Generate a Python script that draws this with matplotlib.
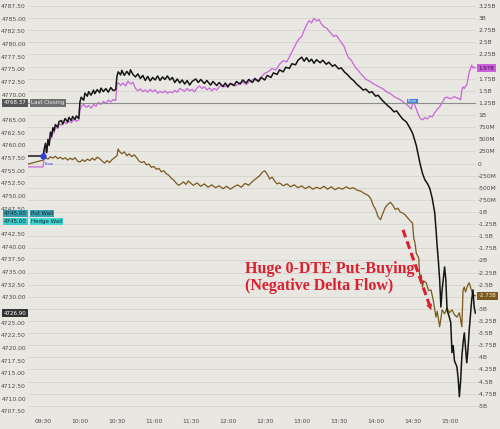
import matplotlib
matplotlib.use("Agg")
import matplotlib.pyplot as plt
import matplotlib.transforms as mtransforms

# minutes after 09:30 (negative = pre-open flat line)
es_min = [-12, 0, 1, 2, 3, 4, 5, 6, 7, 8, 9, 10, 12, 13, 15, 16, 18, 20, 21, 23, 24, 26, 27, 29,
          30, 31, 33, 34, 36, 37, 39, 41, 42, 44, 46, 47, 49, 51, 53, 55, 57, 59,
          60, 61, 63, 64, 66, 68, 70, 71, 73, 75, 77, 79, 81, 83, 85, 87, 89, 91, 93, 95, 97, 99,
          101, 103, 105, 107, 109, 111, 113, 115, 117, 119, 121, 124, 126, 128, 131, 133, 136, 138,
          141, 143, 146, 148, 150, 152, 155, 157, 160, 162, 165, 167, 170, 172, 175, 177, 180, 182,
          185, 187, 190, 192, 195, 197, 200, 202, 205, 207, 210, 212, 214, 216, 218, 220, 222, 225,
          227, 230, 232, 235, 237, 240, 242, 245, 247, 250, 252, 255, 257, 260, 262, 265, 267, 270,
          272, 275, 277, 280, 282, 285, 287, 290, 292, 295, 297, 300, 303, 306, 308, 310, 312, 314,
          316, 318, 319, 320, 321, 322, 323, 324, 326, 327, 328, 330, 331, 332, 333, 334, 336, 337,
          338, 339, 340, 341, 342, 343, 344, 345, 346, 347, 348, 349, 350, 351]
es_price = [4757.9, 4757.9, 4759.3, 4760.4, 4758.6, 4761.2, 4760.0, 4762.6, 4761.8, 4763.5, 4762.9,
            4764.1, 4763.6, 4764.7, 4764.9, 4764.2, 4765.3, 4764.6, 4765.5, 4764.9, 4765.7, 4765.1,
            4765.8, 4765.3,
            4768.6, 4769.5, 4768.9, 4770.3, 4769.7, 4770.6, 4769.9, 4770.9, 4770.2, 4771.0, 4770.4,
            4771.3, 4770.6, 4771.2, 4770.5, 4771.4, 4770.8, 4771.0,
            4773.6, 4774.5, 4773.9, 4774.8, 4773.8, 4774.6, 4773.9, 4774.9, 4774.0, 4773.5, 4774.1,
            4773.2, 4773.8, 4772.8, 4773.6, 4772.7, 4773.4, 4772.9, 4773.7, 4772.8, 4773.5, 4773.0,
            4773.7, 4772.9, 4773.4, 4772.4, 4773.1, 4772.3, 4772.9, 4772.1, 4772.8, 4771.9, 4772.6,
            4773.1, 4772.4, 4773.0, 4772.2, 4772.8, 4771.9, 4772.6,
            4771.8, 4772.4, 4771.6, 4772.3, 4771.5, 4772.2, 4771.8, 4772.6, 4772.1, 4772.9, 4772.3,
            4773.0, 4772.4, 4773.2, 4772.6, 4773.4, 4772.9, 4773.8,
            4773.4, 4774.3, 4774.0, 4774.9, 4774.5, 4775.4, 4775.2, 4776.1, 4775.9, 4776.8, 4777.4,
            4776.6, 4777.3, 4776.5, 4777.0, 4776.2, 4776.9, 4776.3,
            4776.8, 4776.0, 4776.4, 4775.6, 4775.9, 4775.1, 4775.3, 4774.4, 4774.0, 4773.2, 4772.8,
            4772.0, 4771.6, 4770.9, 4771.1, 4770.4, 4770.6, 4769.7,
            4769.9, 4769.0, 4768.5, 4767.8, 4767.4, 4766.6, 4766.8, 4765.8, 4765.2, 4764.6, 4763.8,
            4762.4, 4760.0, 4756.5, 4754.5, 4753.2, 4752.5, 4751.5,
            4749.5, 4746.7, 4743.5, 4740.0, 4737.0, 4733.5, 4728.1, 4731.5, 4736.0, 4733.5, 4727.5,
            4726.0, 4725.0, 4719.1, 4720.5, 4717.5, 4716.3, 4714.0,
            4710.4, 4713.5, 4718.3, 4721.0, 4723.0, 4720.0, 4717.1, 4719.8, 4723.6, 4726.5, 4729.5,
            4731.5, 4728.1, 4726.9]

flow_min = [-12, 0, 1, 2, 3, 4, 5, 6, 7, 8, 9, 10, 12, 13, 15, 17, 19, 21, 23, 25, 27, 29,
            30, 31, 33, 35, 37, 39, 41, 43, 45, 47, 49, 51, 53, 55, 57, 59,
            60, 61, 63, 65, 67, 69, 71, 73, 75, 77, 79, 81, 83, 85, 87, 89, 91, 93, 95, 97, 99,
            101, 103, 105, 107, 109, 111, 113, 115, 117, 119, 121, 123, 125, 127, 129, 131, 133,
            135, 137, 139, 141, 143, 145, 147, 150, 153, 156, 159, 162, 165, 168, 171, 174, 177,
            180, 183, 186, 189, 192, 195, 198, 201, 204, 206, 208, 210, 212, 214, 216, 218, 220,
            222, 224, 226, 228, 230, 232, 234, 236, 238, 240, 242, 244, 246, 248, 250, 252, 254,
            256, 258, 260, 262, 265, 268, 270, 273, 276, 279, 282, 285, 288, 291, 294, 297, 299,
            300, 302, 304, 306, 308, 310, 312, 314, 316, 318, 320, 322, 324, 326, 328, 330, 332,
            334, 336, 338, 339, 340, 341, 342, 343, 344, 345, 346, 347, 348, 349, 350, 351]
flow_val = [-0.07, -0.07, 0.14, 0.28, 0.22, 0.45, 0.40, 0.58, 0.52, 0.68, 0.63, 0.76, 0.72, 0.82,
            0.79, 0.86, 0.82, 0.88, 0.84, 0.91, 0.87, 0.90,
            1.10, 1.18, 1.22, 1.16, 1.20, 1.14, 1.22, 1.18, 1.26, 1.22, 1.28, 1.24, 1.31, 1.27,
            1.32, 1.30,
            1.62, 1.67, 1.61, 1.66, 1.60, 1.70, 1.64, 1.68, 1.55, 1.50, 1.54, 1.48, 1.52, 1.47,
            1.53, 1.48, 1.52, 1.45, 1.49, 1.46, 1.50,
            1.45, 1.48, 1.46, 1.51, 1.47, 1.55, 1.52, 1.49, 1.55, 1.50, 1.53, 1.48, 1.56, 1.60,
            1.55, 1.58, 1.52,
            1.56, 1.50, 1.55, 1.52, 1.58, 1.62, 1.58, 1.62, 1.66, 1.60, 1.64, 1.68, 1.63, 1.70,
            1.74, 1.70, 1.78,
            1.86, 1.90, 1.96, 1.93, 2.05, 2.12, 2.10, 2.25, 2.40, 2.50, 2.58, 2.62, 2.75, 2.86,
            2.95, 2.90, 3.00,
            2.94, 2.97, 2.88, 2.82, 2.80, 2.74, 2.68, 2.62, 2.65, 2.58, 2.50, 2.44, 2.30, 2.18,
            2.14, 2.05, 1.97,
            1.92, 1.85, 1.80, 1.74, 1.70, 1.65, 1.62, 1.58, 1.54, 1.48, 1.44, 1.38, 1.34, 1.30,
            1.24, 1.18, 1.12,
            1.26, 1.20, 1.05, 0.94, 0.90, 0.95, 0.92, 0.98, 0.96, 1.05, 1.12, 1.17, 1.25, 1.35,
            1.37, 1.34, 1.35,
            1.38, 1.35, 1.34, 1.31, 1.52, 1.58, 1.55, 1.60, 1.62, 1.75, 1.89, 1.95, 2.03, 1.97,
            1.99, 1.97]

delta_min = [-12, 0, 2, 4, 6, 8, 10, 12, 14, 16, 18, 20, 22, 24, 26, 28, 30, 32, 34, 36, 38, 40,
             42, 44, 46, 48, 50, 52, 54, 56, 58, 60, 61, 62, 64, 66, 68, 70, 72, 74, 76, 78, 80,
             82, 84, 86, 88, 90, 92, 94, 96, 98, 100, 102, 104, 106, 108, 110, 112, 114, 116, 118,
             120, 122, 125, 128, 131, 134, 137, 140, 143, 146, 149, 152, 155, 158, 161, 164, 167,
             170, 173, 176, 178, 180, 182, 184, 186, 188, 190, 192, 195, 198, 201, 204, 207, 210,
             213, 216, 219, 222, 225, 228, 231, 234, 237, 240, 243, 246, 249, 252, 255, 258, 261,
             264, 266, 268, 270, 272, 274, 276, 278, 280, 282, 284, 286, 288, 290, 292, 294, 296,
             298, 300, 301, 302, 303, 305, 306, 307, 308, 309, 311, 313, 315, 317, 319, 320, 322,
             323, 324, 326, 328, 330, 332, 334, 336, 338, 340, 341, 342, 343, 344, 345, 346, 347,
             348, 349, 351]
delta_val = [-0.01, 0.07, 0.12, 0.09, 0.14, 0.11, 0.15, 0.10, 0.13, 0.09, 0.12, 0.07, 0.11, 0.08,
             0.12, 0.05, 0.03, 0.08, 0.04, 0.09, 0.06, 0.11, 0.07, 0.13, 0.10, 0.05, 0.01, 0.06,
             0.02, 0.08, 0.12, 0.16, 0.30, 0.25, 0.20, 0.24, 0.16, 0.20, 0.14, 0.18, 0.12, 0.05,
             0.02, 0.04, -0.03, -0.01, -0.08, -0.06, -0.12, -0.10, -0.17, -0.15, -0.21, -0.24,
             -0.30, -0.34, -0.40, -0.45, -0.42, -0.38, -0.43, -0.36,
             -0.41, -0.45, -0.40, -0.47, -0.42, -0.49, -0.44, -0.50, -0.46, -0.52, -0.47, -0.53,
             -0.48, -0.44, -0.49, -0.41, -0.45,
             -0.37, -0.31, -0.25, -0.18, -0.15, -0.22, -0.32, -0.28, -0.36, -0.42, -0.40, -0.46,
             -0.42, -0.48, -0.44, -0.50, -0.46,
             -0.52, -0.47, -0.53, -0.49, -0.52, -0.47, -0.53, -0.48, -0.54, -0.50, -0.53, -0.48,
             -0.52, -0.50, -0.55, -0.57, -0.62,
             -0.66, -0.72, -0.86, -0.95, -1.10, -1.16, -1.02, -0.90, -0.84, -0.80, -0.86, -0.95,
             -0.92, -1.00, -1.02, -1.06, -1.12,
             -1.18, -1.23, -1.55, -1.64, -1.85, -1.95, -2.40, -2.30, -2.55, -2.42, -2.46, -2.62,
             -2.61, -2.85, -3.17, -3.05, -3.37,
             -3.20, -3.02, -3.10, -2.98, -3.08, -3.02, -3.12, -3.17, -3.08, -3.37, -2.61, -2.55,
             -2.65, -2.57, -2.50, -2.46, -2.55,
             -2.63, -2.71, -2.73]

last_close = 4768.37
put_wall = 4745.00
hedge_wall = 4745.00

time_ticks = [0, 30, 60, 90, 120, 150, 180, 210, 240, 270, 300, 330]
time_labels = ["09:30", "10:00", "10:30", "11:00", "11:30", "12:00",
               "12:30", "13:00", "13:30", "14:00", "14:30", "15:00"]

bg = "#e9e7e2"
tick_col = "#4a4a4a"


def fmt_bn(v):
    if abs(v) < 1e-9:
        return "0"
    if abs(v) >= 1:
        return f"{v:g}B"
    return f"{v * 1000:g}M"


fig = plt.figure(figsize=(5, 4.29), dpi=100, facecolor=bg)
ax = fig.add_axes([0.056, 0.033, 0.896, 0.967])
ax2 = ax.twinx()
ax.set_zorder(ax2.get_zorder() + 1)
ax.patch.set_visible(False)
ax2.patch.set_visible(True)
ax2.patch.set_facecolor(bg)

ax.set_xlim(-12.2, 351.5)
ax.set_ylim(4706.83, 4788.68)
ax2.set_ylim(-5.186, 3.374)

# labels hidden behind the value boxes
left_boxed = [last_close, hedge_wall, es_price[-1]]
right_boxed = [flow_val[-1], delta_val[-1]]

rticks = [x * 0.25 for x in range(-20, 14)]
ax2.set_yticks(rticks)
ax2.set_yticklabels(["" if any(abs(v - b) < 0.13 for b in right_boxed) else fmt_bn(v)
                     for v in rticks])
ax2.grid(True, color="#d7d4ce", lw=0.6)
ax.set_xticks(time_ticks)
ax.set_xticklabels(time_labels)
ax2.set_xticks(time_ticks)

lticks = [4707.5 + 2.5 * i for i in range(33)]
ax.set_yticks(lticks)
ax.set_yticklabels(["" if any(abs(v - b) < 1.0 for b in left_boxed) else f"{v:.2f}"
                    for v in lticks])

for a in (ax, ax2):
    for s in a.spines.values():
        s.set_visible(False)
    a.tick_params(length=0, labelsize=4.3, colors=tick_col, pad=1.5)
ax.tick_params(axis="x", pad=3)

ax.axhline(last_close, color="#8c8c8c", lw=0.8, zorder=1)

ax2.plot(delta_min, delta_val, color="#7a5a1c", lw=0.9)
ax2.plot(flow_min, flow_val, color="#c865dc", lw=0.9)
ax.plot(es_min, es_price, color="#151515", lw=1.1)

# flow event markers
ax.plot([0], [es_price[1]], "o", color="#2f3fd8", ms=3.5, zorder=5)
ax.text(1, es_price[1] - 1.6, "Flow", fontsize=2.8, color="#2f3fd8", va="center", zorder=5)
ax2.text(300, 1.28, "Flow", fontsize=2.8, color="white", ha="center", va="center", zorder=5,
         bbox=dict(boxstyle="square,pad=0.2", fc="#3f7fe0", ec="none"))

# value boxes on the left
lt = mtransforms.blended_transform_factory(fig.transFigure, ax.transData)
box_kw = dict(fontsize=4.0, va="center", zorder=10, clip_on=False)
ax.text(0.053, last_close, f"{last_close:.2f}", transform=lt, ha="right", color="white",
        bbox=dict(boxstyle="square,pad=0.25", fc="#555555", ec="none"), **box_kw)
ax.text(0.062, last_close, "Last Closing", transform=lt, ha="left", color="#eeeeee",
        bbox=dict(boxstyle="square,pad=0.25", fc="#707070", ec="none"), **box_kw)
lt_up = mtransforms.offset_copy(lt, fig=fig, y=7.5, units="dots")
ax.text(0.053, put_wall, f"{put_wall:.2f}", transform=lt_up, ha="right", color="#0d2a30",
        bbox=dict(boxstyle="square,pad=0.2", fc="#3a9fb3", ec="none"), **box_kw)
ax.text(0.062, put_wall, "Put Wall", transform=lt_up, ha="left", color="#0d2a30",
        bbox=dict(boxstyle="square,pad=0.2", fc="#3a9fb3", ec="none"), **box_kw)
ax.text(0.053, hedge_wall, f"{hedge_wall:.2f}", transform=lt, ha="right", color="#0d2a30",
        bbox=dict(boxstyle="square,pad=0.2", fc="#3dcaca", ec="none"), **box_kw)
ax.text(0.062, hedge_wall, "Hedge Wall", transform=lt, ha="left", color="#0d2a30",
        bbox=dict(boxstyle="square,pad=0.2", fc="#44d6d0", ec="none"), **box_kw)
ax.text(0.053, es_price[-1], f"{es_price[-1]:.2f}", transform=lt, ha="right", color="white",
        bbox=dict(boxstyle="square,pad=0.25", fc="#333333", ec="none"), **box_kw)

# value boxes on the right
rt = mtransforms.blended_transform_factory(fig.transFigure, ax2.transData)
ax.text(0.957, flow_val[-1], fmt_bn(flow_val[-1]), transform=rt, ha="left", color="#3a0e45",
        bbox=dict(boxstyle="square,pad=0.25", fc="#cc5fdc", ec="none"), **box_kw)
ax.text(0.957, delta_val[-1], fmt_bn(delta_val[-1]), transform=rt, ha="left", color="#f3e6c8",
        bbox=dict(boxstyle="square,pad=0.25", fc="#7a5a1c", ec="none"), **box_kw)

# annotation
red = "#de1f2e"
ax.text(0.484, 0.331, "Huge 0-DTE Put-Buying\n(Negative Delta Flow)", transform=ax.transAxes,
        family="Liberation Serif", weight="bold", fontsize=11.5, color=red,
        va="center", ha="left", linespacing=1.05, zorder=10)
ax.plot([0.837, 0.897], [0.446, 0.262], transform=ax.transAxes, color=red, lw=2.2,
        ls=(0, (2.6, 1.4)), zorder=10, solid_capstyle="butt")
ax.annotate("", xy=(0.902, 0.246), xytext=(0.893, 0.274), xycoords="axes fraction",
            arrowprops=dict(arrowstyle="-|>", color=red, lw=0, mutation_scale=11), zorder=10)

fig.savefig("out.png", dpi=100, facecolor=bg)
